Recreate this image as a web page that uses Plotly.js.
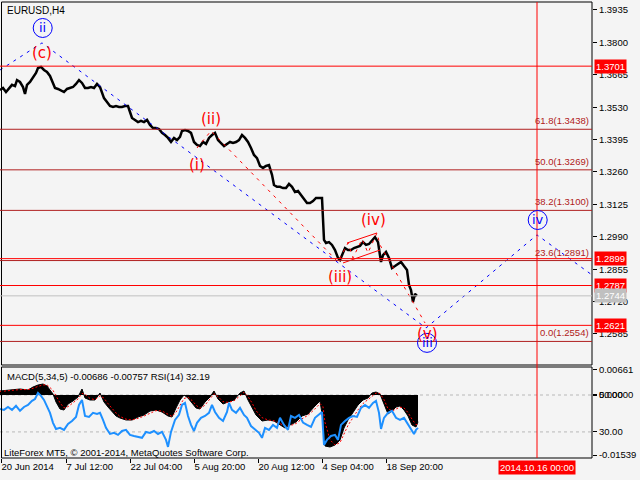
<!DOCTYPE html>
<html><head><meta charset="utf-8">
<script src="https://cdn.plot.ly/plotly-3.0.1.min.js"></script>
<style>html,body{margin:0;padding:0;background:#f4f4f4;}#chart{width:640px;height:480px;}</style>
</head><body><div id="chart"></div>
<script>
// ---------- DATA ----------
const barX = [0,3,6,9,12,15,17,20,23,25,27,30,33,36,38,41,44,47,50,53,55,58,61,64,67,70,73,76,79,82,85,88,91,94,97,100,102,104,107,110,113,116,119,122,125,128,130,132,135,138,141,144,147,150,153,156,159,162,165,168,171,174,177,180,182,185,188,191,194,197,200,203,206,209,212,215,218,221,224,227,230,233,236,239,242,245,248,251,254,257,260,263,266,269,272,274,277,280,283,286,289,292,295,298,301,304,307,310,313,316,319,322,324,326,329,332,335,338,340,342,345,348,351,354,357,360,363,366,369,372,375,378,381,383,386,389,392,395,398,401,404,407,409,411,413,415,417];
const closePrice = [1.3602,1.3610,1.3593,1.3610,1.3623,1.3618,1.3643,1.3635,1.3614,1.3585,1.3623,1.3635,1.3652,1.3673,1.3693,1.3698,1.3685,1.3677,1.3660,1.3627,1.3610,1.3606,1.3598,1.3593,1.3606,1.3610,1.3614,1.3627,1.3643,1.3631,1.3610,1.3610,1.3614,1.3610,1.3627,1.3614,1.3593,1.3568,1.3552,1.3535,1.3531,1.3535,1.3531,1.3531,1.3535,1.3535,1.3510,1.3485,1.3477,1.3468,1.3473,1.3468,1.3477,1.3456,1.3443,1.3443,1.3439,1.3423,1.3414,1.3402,1.3385,1.3402,1.3393,1.3406,1.3431,1.3435,1.3431,1.3423,1.3385,1.3373,1.3368,1.3385,1.3377,1.3402,1.3414,1.3423,1.3393,1.3381,1.3368,1.3377,1.3385,1.3381,1.3385,1.3393,1.3414,1.3402,1.3385,1.3360,1.3331,1.3318,1.3285,1.3277,1.3285,1.3289,1.3248,1.3206,1.3198,1.3198,1.3193,1.3193,1.3210,1.3198,1.3177,1.3181,1.3164,1.3148,1.3131,1.3131,1.3139,1.3152,1.3152,1.3152,1.2977,1.2964,1.2968,1.2956,1.2935,1.2902,1.2893,1.2914,1.2943,1.2935,1.2935,1.2943,1.2948,1.2952,1.2968,1.2956,1.2960,1.2977,1.2989,1.2968,1.2885,1.2914,1.2927,1.2902,1.2860,1.2868,1.2877,1.2885,1.2868,1.2852,1.2789,1.2768,1.2718,1.2752,1.2744];

const macdX = [0,10,20,28,33,38,43,47,50,53,56,60,64,68,73,78,82,85,90,95,100,104,108,112,116,120,126,132,138,144,150,156,162,168,172,176,180,184,188,192,196,200,205,210,214,218,223,228,234,240,244,248,252,256,262,268,274,280,285,290,296,302,308,314,320,323,325,330,335,340,344,348,353,358,363,368,372,376,380,384,388,392,396,400,404,408,412,416,418];
const macdMain = [0.00103,0.00128,0.00154,0.00128,0.00205,0.00256,0.00282,0.00231,0.00128,0.00026,-0.00179,-0.00359,-0.00385,-0.00231,-0.00154,-0.00051,0.00154,-0.00077,-0.00128,-0.00128,0.00051,-0.00179,-0.00308,-0.00436,-0.00538,-0.00590,-0.00641,-0.00641,-0.00564,-0.00513,-0.00410,-0.00385,-0.00436,-0.00538,-0.00564,-0.00333,-0.00128,0.00000,-0.00077,-0.00205,-0.00333,-0.00359,-0.00179,-0.00051,0.00103,-0.00103,-0.00231,-0.00179,-0.00128,0.00051,0.00103,-0.00128,-0.00308,-0.00513,-0.00667,-0.00641,-0.00667,-0.00769,-0.00846,-0.00769,-0.00692,-0.00538,-0.00487,-0.00308,-0.00154,-0.00641,-0.01308,-0.01333,-0.01282,-0.01154,-0.00846,-0.00641,-0.00462,-0.00256,-0.00128,-0.00077,0.00051,0.00077,0.00026,-0.00256,-0.00487,-0.00410,-0.00308,-0.00282,-0.00385,-0.00538,-0.00770,-0.00820,-0.00686];
const macdSignal = [0.0009,0.0012,0.0014,0.0014,0.0017,0.0022,0.0026,0.0026,0.0020,0.0012,-0.0002,-0.0020,-0.0033,-0.0030,-0.0020,-0.0010,0.0004,0.0002,-0.0009,-0.0012,-0.0002,-0.0008,-0.0022,-0.0035,-0.0046,-0.0055,-0.0062,-0.0064,-0.0060,-0.0054,-0.0046,-0.0040,-0.0041,-0.0049,-0.0055,-0.0044,-0.0025,-0.0009,-0.0006,-0.0014,-0.0026,-0.0034,-0.0026,-0.0011,0.0003,-0.0004,-0.0017,-0.0019,-0.0015,-0.0002,0.0007,-0.0004,-0.0020,-0.0040,-0.0058,-0.0064,-0.0066,-0.0073,-0.0080,-0.0079,-0.0073,-0.0061,-0.0052,-0.0038,-0.0022,-0.0030,-0.0070,-0.0115,-0.0128,-0.0122,-0.0100,-0.0078,-0.0058,-0.0038,-0.0022,-0.0012,-0.0002,0.0005,0.0004,-0.0012,-0.0035,-0.0041,-0.0036,-0.0031,-0.0033,-0.0045,-0.0062,-0.0076,-0.00757];

const rsiX = [0,4,8,12,16,20,24,28,32,35,38,41,44,47,50,53,56,60,64,68,72,76,79,82,85,89,93,97,100,103,106,110,114,118,122,126,130,134,138,142,146,150,154,158,162,166,168,171,175,179,182,185,188,191,194,197,201,205,209,212,215,219,223,227,229,232,236,240,244,247,251,255,259,262,265,269,273,277,280,284,288,291,295,299,303,307,311,315,319,322,324,327,331,335,338,341,345,349,353,357,361,365,369,373,376,379,381,384,388,392,396,400,404,408,411,414,416,418];
const rsiValue = [42.4,41.9,43.5,41.9,44.1,41.4,43.5,44.6,46.8,47.8,51.1,49.5,47.3,44.1,40.3,34.9,31.6,32.2,31.1,34.3,35.9,38.1,44.6,47.3,38.6,38.1,40.3,39.7,40.3,36.5,32.2,28.9,29.5,28.4,30.5,31.1,28.4,27.8,27.3,26.8,30.0,29.5,30.5,28.9,30.0,25.7,21.9,30.0,36.5,39.2,44.6,45.7,38.6,33.8,30.5,34.9,37.6,38.6,40.3,44.6,40.8,37.6,35.9,40.8,45.7,41.9,40.3,43.0,39.2,37.6,33.2,31.1,29.5,26.8,32.2,31.1,33.8,32.2,37.6,33.8,31.1,38.6,37.6,39.2,35.1,33.8,32.7,37.6,39.2,40.8,23.0,25.7,27.8,28.4,25.7,33.8,35.9,37.6,38.6,38.1,43.0,44.6,43.0,45.7,46.8,40.3,31.6,37.6,40.3,41.4,37.6,36.5,37.6,33.8,31.1,28.9,31.1,32.19];

const priceTickVals = [1.3935,1.3800,1.3665,1.3530,1.3395,1.3260,1.3125,1.2990,1.2855,1.2720,1.2585];
const timeTickVals = [1,66,130,194,258,322,386];
const timeTickText = ["20 Jun 2014","7 Jul 12:00","22 Jul 04:00","5 Aug 20:00","20 Aug 12:00","4 Sep 04:00","18 Sep 20:00"];
const macdTickVals = [0.00661,0,-0.01539];
const macdTickText = ["0.00661","0.00000","-0.01539"];
const rsiTickVals = [50,30];
const rsiTickText = ["50.00","30.00"];

const redLevels = [1.3701,1.2899,1.2787,1.2621];
const bidPrice = 1.2744;
const fibNames = ["61.8","50.0","38.2","23.6","0.0"];
const fibPrices = [1.3438,1.3269,1.3100,1.2891,1.2554];

const majorWaveX = [0,42,426,537,592];
const majorWaveY = [1.3685,1.3798,1.2610,1.2998,1.2831];
const minorWaveX = [197,211,338,348,353,362,368,377,380,425];
const minorWaveY = [1.3360,1.3431,1.2885,1.2964,1.2902,1.2980,1.2923,1.3006,1.2956,1.2631];
const triUpperX = [347,377], triUpperY = [1.2964,1.3006];
const triLowerX = [343,380], triLowerY = [1.2881,1.2935];

const minorLabels = ["(c)","(ii)","(i)","(iv)","(iii)","(v)"];
const minorLabelX = [42,211,197,373,340,427];
const minorLabelY = [1.3755,1.3480,1.3289,1.3060,1.2822,1.2583];
const majorLabels = ["ii","iv","iii"];
const majorLabelX = [42.7,537.7,427];
const majorLabelY = [1.3860,1.3060,1.2548];

const futureLineX = 537;
const futureLineText = "2014.10.16 00:00";
const symbolTitle = "EURUSD,H4";
const indicatorTitle = "MACD(5,34,5) -0.00686 -0.00757 RSI(14) 32.19";
const copyrightText = "LiteForex MT5, © 2001-2014, MetaQuotes Software Corp.";

// ---------- LAYOUT ----------
const W = 640, H = 480;
const FONT = "Liberation Sans, Arial, sans-serif";
const px = v => v / W;
const py = v => (H - v) / H;
const plotRight = 592;
const pTop = 2, pBot = 365, iTop = 367, iBot = 458;
const FIB = "#b02020";

const traces = [
  {x: barX, y: closePrice, xaxis:"x", yaxis:"y", mode:"lines", line:{color:"#000", width:2.5}},
  {x: majorWaveX, y: majorWaveY, xaxis:"x", yaxis:"y", mode:"lines", line:{color:"#0000ff", width:1, dash:"3px,5px"}},
  {x: minorWaveX, y: minorWaveY, xaxis:"x", yaxis:"y", mode:"lines", line:{color:"#ff0000", width:1, dash:"3px,5px"}},
  {x: triUpperX, y: triUpperY, xaxis:"x", yaxis:"y", mode:"lines", line:{color:"#ff0000", width:1}},
  {x: triLowerX, y: triLowerY, xaxis:"x", yaxis:"y", mode:"lines", line:{color:"#ff0000", width:1}},
  {x: macdX, y: macdMain, xaxis:"x", yaxis:"y2", mode:"lines", fill:"tozeroy", fillcolor:"#000", line:{color:"#000", width:1}},
  {x: macdX, y: macdSignal, xaxis:"x", yaxis:"y2", mode:"lines", line:{color:"#ff0000", width:1, dash:"2px,2px"}},
  {x: rsiX, y: rsiValue, xaxis:"x", yaxis:"y3", mode:"lines", line:{color:"#1e90ff", width:2}}
];

const shapes = [];
const annotations = [];

shapes.push({type:"rect", xref:"paper", yref:"paper", x0:px(1.5), x1:px(plotRight), y0:py(pBot), y1:py(pTop), line:{color:"#000", width:1}});
shapes.push({type:"rect", xref:"paper", yref:"paper", x0:px(1.5), x1:px(plotRight), y0:py(iBot), y1:py(iTop), line:{color:"#000", width:1}});

redLevels.forEach(p => {
  shapes.push({type:"line", xref:"x", yref:"y", x0:0, x1:plotRight, y0:p, y1:p, line:{color:"#ff0000", width:1}});
  annotations.push({xref:"paper", yref:"y", x:px(594), y:p, xanchor:"left", yanchor:"middle", text:p.toFixed(4), showarrow:false, bgcolor:"#ff0000", borderpad:1, font:{family:FONT, size:9.5, color:"#fff"}});
});
shapes.push({type:"line", xref:"x", yref:"y", x0:0, x1:plotRight, y0:bidPrice, y1:bidPrice, line:{color:"#c0c0c0", width:1}});
annotations.push({xref:"paper", yref:"y", x:px(594), y:bidPrice, xanchor:"left", yanchor:"middle", text:bidPrice.toFixed(4), showarrow:false, bgcolor:"#c0c0c0", borderpad:1, font:{family:FONT, size:9.5, color:"#fff"}});

fibPrices.forEach((p, i) => {
  shapes.push({type:"line", xref:"x", yref:"y", x0:0, x1:plotRight, y0:p, y1:p, line:{color:FIB, width:1}});
  annotations.push({xref:"paper", yref:"y", x:px(590), y:p, xanchor:"right", yanchor:"bottom", yshift:2, text:fibNames[i] + "(" + p.toFixed(4) + ")", showarrow:false, borderpad:0, font:{family:FONT, size:9.5, color:FIB}});
});

shapes.push({type:"line", xref:"x", yref:"paper", x0:futureLineX, x1:futureLineX, y0:py(iBot), y1:py(pTop), line:{color:"#ff0000", width:1}});
annotations.push({xref:"x", yref:"paper", x:futureLineX, y:py(467), xanchor:"center", yanchor:"middle", text:futureLineText, showarrow:false, bgcolor:"#ff0000", borderpad:1, font:{family:FONT, size:9.5, color:"#fff"}});

shapes.push({type:"line", xref:"x", yref:"y2", x0:0, x1:plotRight, y0:0, y1:0, line:{color:"#b8b8b8", width:1, dash:"3px,3px"}, layer:"below"});
shapes.push({type:"line", xref:"x", yref:"y3", x0:0, x1:plotRight, y0:30, y1:30, line:{color:"#b8b8b8", width:1, dash:"3px,3px"}, layer:"below"});

minorLabels.forEach((t, i) => {
  annotations.push({xref:"x", yref:"y", x:minorLabelX[i], y:minorLabelY[i], text:t, showarrow:false, xanchor:"center", yanchor:"middle", font:{family:"DejaVu Sans, sans-serif", size:15, color:"#ff0000"}});
});
majorLabels.forEach((t, i) => {
  shapes.push({type:"circle", xref:"x", yref:"y", xsizemode:"pixel", ysizemode:"pixel", xanchor:majorLabelX[i], yanchor:majorLabelY[i], x0:-9.5, x1:9.5, y0:-9.5, y1:9.5, line:{color:"#0000ff", width:1}});
  annotations.push({xref:"x", yref:"y", x:majorLabelX[i], y:majorLabelY[i], text:t, showarrow:false, xanchor:"center", yanchor:"middle", font:{family:"DejaVu Sans, sans-serif", size:13, color:"#0000ff"}});
});

annotations.push({xref:"paper", yref:"paper", x:px(5), y:py(10), xanchor:"left", yanchor:"middle", text:symbolTitle, showarrow:false, font:{family:FONT, size:10, color:"#000"}});
annotations.push({xref:"paper", yref:"paper", x:px(5), y:py(376), xanchor:"left", yanchor:"middle", text:indicatorTitle, showarrow:false, font:{family:FONT, size:9.5, color:"#000"}});
annotations.push({xref:"paper", yref:"paper", x:px(2), y:py(452), xanchor:"left", yanchor:"middle", text:copyrightText, showarrow:false, font:{family:FONT, size:9.5, color:"#000"}});

const tickFont = {family:FONT, size:9.5, color:"#000"};
const layout = {
  width: W, height: H,
  margin: {l:0, r:0, t:0, b:0, pad:0},
  paper_bgcolor: "#f4f4f4", plot_bgcolor: "#f4f4f4",
  showlegend: false, hovermode: false,
  xaxis: {domain:[0, px(plotRight)], range:[0, plotRight], anchor:"y2", showgrid:false, zeroline:false,
          tickmode:"array", tickvals:timeTickVals, ticktext:timeTickText, ticks:"outside", ticklen:4, tickcolor:"#000",
          ticklabelposition:"outside right", tickfont:tickFont, showline:false},
  yaxis: {domain:[py(pBot), py(pTop)], range:[1.24558, 1.39683], side:"right", anchor:"x", showgrid:false, zeroline:false,
          tickmode:"array", tickvals:priceTickVals, ticktext:priceTickVals.map(v => v.toFixed(4)), ticks:"outside", ticklen:4, tickcolor:"#000",
          tickfont:tickFont, showline:false},
  yaxis2: {domain:[py(iBot), py(iTop)], range:[-0.01615, 0.00718], side:"right", anchor:"x", showgrid:false, zeroline:false,
          tickmode:"array", tickvals:macdTickVals, ticktext:macdTickText, ticks:"outside", ticklen:4, tickcolor:"#000", tickfont:tickFont},
  yaxis3: {overlaying:"y2", range:[15.9, 65.1], side:"right", anchor:"x", showgrid:false, zeroline:false,
          tickmode:"array", tickvals:rsiTickVals, ticktext:rsiTickText, ticks:"outside", ticklen:4, tickcolor:"#000", tickfont:tickFont},
  shapes: shapes,
  annotations: annotations
};

Plotly.newPlot("chart", traces, layout, {staticPlot:true, displayModeBar:false});
</script>
</body></html>
